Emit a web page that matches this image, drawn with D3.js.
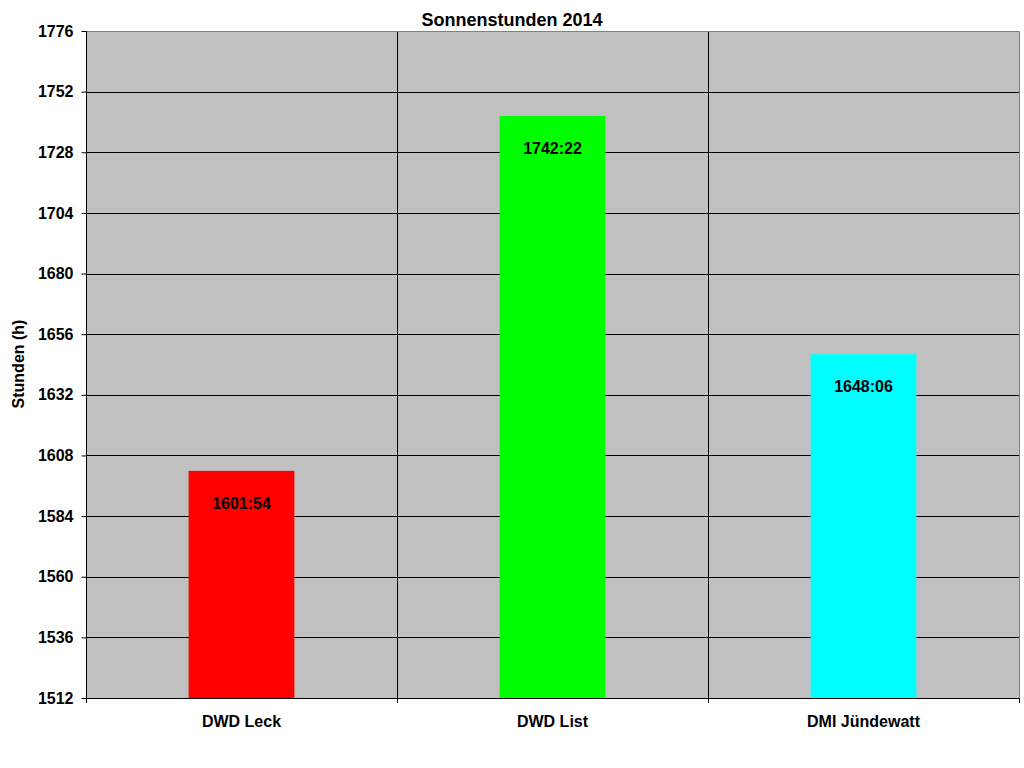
<!DOCTYPE html>
<html><head><meta charset="utf-8">
<script src="https://cdn.jsdelivr.net/npm/d3@7/dist/d3.min.js"></script>
<style>body{margin:0;background:#fff}svg{display:block}text{font-family:"Liberation Sans",Arial,sans-serif;font-weight:bold;fill:#000}</style>
</head><body>
<script>
const categories = ["DWD Leck", "DWD List", "DMI Jündewatt"];
const values = [1601 + 54/60, 1742 + 22/60, 1648 + 6/60];
const valueLabels = ["1601:54", "1742:22", "1648:06"];
const colors = ["#ff0000", "#00ff00", "#00ffff"];
const yTicks = [1512, 1536, 1560, 1584, 1608, 1632, 1656, 1680, 1704, 1728, 1752, 1776];
const title = "Sonnenstunden 2014";
const yTitle = "Stunden (h)";

const W = 1024, H = 768;
const m = {left: 86, right: 1019, top: 31, bottom: 698};
const svg = d3.select("body").append("svg").attr("width", W).attr("height", H);

const x = d3.scaleBand().domain(categories).range([m.left, m.right]).paddingInner(0).paddingOuter(0);
const y = d3.scaleLinear().domain([1512, 1776]).range([m.bottom, m.top]);

svg.append("rect").attr("x", m.left).attr("y", m.top).attr("width", m.right - m.left).attr("height", m.bottom - m.top).attr("fill", "#c0c0c0");

// horizontal gridlines
svg.append("g").selectAll("line").data(yTicks.slice(1)).join("line")
  .attr("x1", m.left).attr("x2", m.right).attr("y1", d => Math.round(y(d)) + 0.5).attr("y2", d => Math.round(y(d)) + 0.5)
  .attr("stroke", "#000").attr("stroke-width", 1);
// vertical gridlines at category boundaries
const bounds = categories.slice(1).map(c => x(c));
svg.append("g").selectAll("line").data(bounds).join("line")
  .attr("x1", d => Math.round(d) + 0.5).attr("x2", d => Math.round(d) + 0.5).attr("y1", m.top).attr("y2", m.bottom)
  .attr("stroke", "#000").attr("stroke-width", 1);

// bars
const bw = x.bandwidth() * 0.34;
svg.append("g").selectAll("rect").data(values).join("rect")
  .attr("x", (d, i) => x(categories[i]) + x.bandwidth() / 2 - bw / 2)
  .attr("width", bw)
  .attr("y", d => y(d))
  .attr("height", d => y(1512) - y(d))
  .attr("fill", (d, i) => colors[i]);

// value labels
svg.append("g").selectAll("text").data(values).join("text")
  .attr("x", (d, i) => x(categories[i]) + x.bandwidth() / 2)
  .attr("y", d => y(d) + 38)
  .attr("text-anchor", "middle").attr("font-size", 16)
  .text((d, i) => valueLabels[i]);

// border: top/right gray
svg.append("path").attr("d", `M${m.left},${m.top + 0.5}H${m.right + 0.5}V${m.bottom}`).attr("fill", "none").attr("stroke", "#808080");

// y axis
const yAxis = svg.append("g").attr("transform", `translate(${m.left + 0.5},0)`)
  .call(d3.axisLeft(y).tickValues(yTicks).tickSize(5).tickPadding(8).tickFormat(d3.format("d")));
yAxis.select(".domain").attr("stroke", "#000").attr("d", `M0,${m.top}V${m.bottom}`);
yAxis.selectAll(".tick line").attr("stroke", "#000");
yAxis.selectAll(".tick text").attr("font-size", 16).attr("font-family", '"Liberation Sans",Arial,sans-serif').attr("font-weight", "bold").attr("fill", "#000");

// x axis
const xAxis = svg.append("g").attr("transform", `translate(0,${m.bottom + 0.5})`)
  .call(d3.axisBottom(x).tickSize(0).tickPadding(17));
xAxis.select(".domain").attr("stroke", "#000").attr("d", `M${m.left},0H${m.right + 0.5}`);
xAxis.selectAll(".tick text").attr("font-size", 16).attr("font-family", '"Liberation Sans",Arial,sans-serif').attr("font-weight", "bold").attr("fill", "#000");
// x ticks at boundaries
svg.append("g").selectAll("line").data([m.left].concat(bounds, [m.right])).join("line")
  .attr("x1", d => Math.round(d) + 0.5).attr("x2", d => Math.round(d) + 0.5)
  .attr("y1", m.bottom).attr("y2", m.bottom + 5).attr("stroke", "#000");

// title
svg.append("text").attr("x", 512).attr("y", 26).attr("text-anchor", "middle").attr("font-size", 18).text(title);
svg.append("text").attr("transform", `translate(24,364) rotate(-90)`).attr("text-anchor", "middle").attr("font-size", 16).text(yTitle);
</script>
</body></html>
